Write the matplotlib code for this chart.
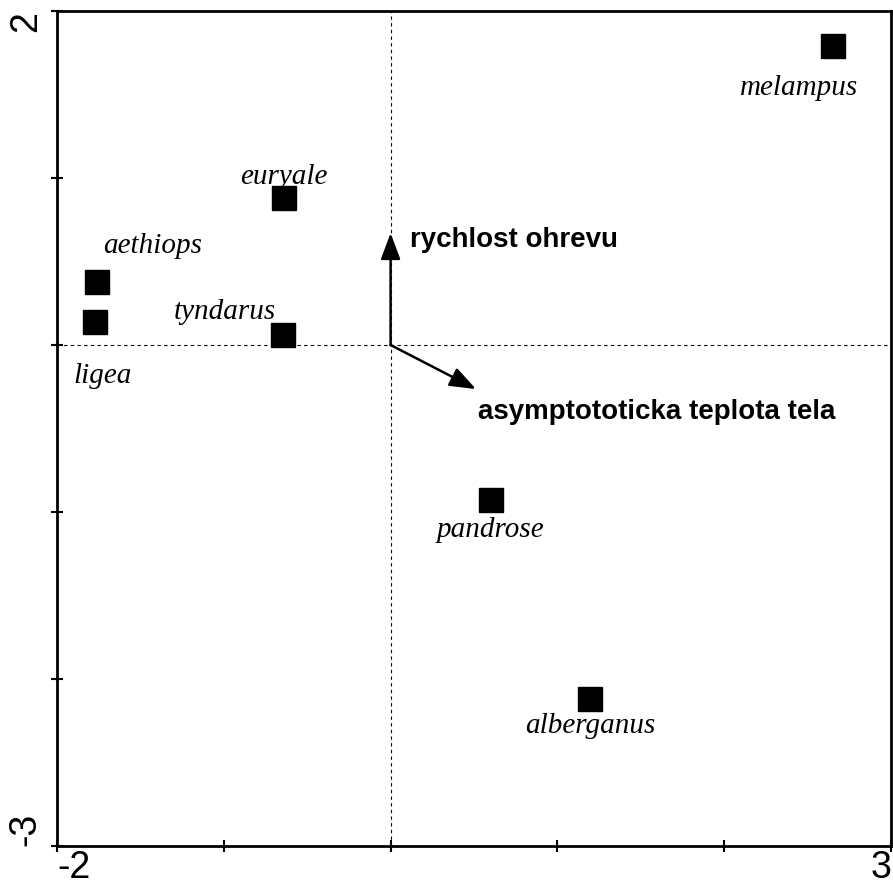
import matplotlib.pyplot as plt

# species scores
species = ['melampus', 'euryale', 'aethiops', 'ligea', 'tyndarus', 'pandrose', 'alberganus']
sp_x = [2.65, -0.64, -1.76, -1.77, -0.645, 0.60, 1.195]
sp_y = [1.79, 0.88, 0.375, 0.136, 0.062, -0.928, -2.12]

# environmental variables (arrows)
env_names = ['rychlost ohrevu', 'asymptototicka teplota tela']
env_x = [0.0, 0.512]
env_y = [0.67, -0.264]

# label offsets in pixels (dx, dy), up is positive
lab_off = [(-34, -42), (0, 21), (56, 36), (7, -54), (-58, 23), (0, -30), (0, -27)]
env_off = [(19, -7), (2, -23)]

fig = plt.figure(figsize=(8.93, 8.92), dpi=100)
ax = fig.add_axes([57 / 893, 1 - 846 / 892, 834 / 893, 835 / 892])

ax.set_xlim(-2, 3)
ax.set_ylim(-3, 2)

# dashed zero lines
ax.axhline(0, color='black', lw=0.8, ls=(0, (3, 3)))
ax.axvline(0, color='black', lw=0.8, ls=(0, (3, 3)))

ax.plot(sp_x, sp_y, 's', color='black', ms=17, zorder=3)
for name, x, y, off in zip(species, sp_x, sp_y, lab_off):
    ax.annotate(name, (x, y), xytext=off, textcoords='offset pixels',
                ha='center', va='center', fontsize=21, style='italic',
                family='Liberation Serif')

for name, x, y, off in zip(env_names, env_x, env_y, env_off):
    ax.annotate('', xy=(x, y), xytext=(0, 0),
                arrowprops=dict(arrowstyle='-|>,head_length=0.8,head_width=0.3',
                                color='black', lw=1.8, mutation_scale=20,
                                shrinkA=0, shrinkB=0))
    ax.annotate(name, (x, y), xytext=off, textcoords='offset pixels',
                ha='left', va='center', fontsize=20, fontweight='bold',
                family='Liberation Sans')

for s in ax.spines.values():
    s.set_linewidth(2)

ax.set_xticks([-2, -1, 0, 1, 2, 3])
ax.set_yticks([-3, -2, -1, 0, 1, 2])
ax.set_xticklabels(['-2', '', '', '', '', '3'])
ax.set_yticklabels(['-3', '', '', '', '', '2'])
ax.tick_params(direction='inout', length=9, width=1.5, labelsize=27)
ax.tick_params(axis='x', pad=-1.5)
ax.tick_params(axis='y', pad=5)
for lab in ax.get_xticklabels():
    lab.set_family('Liberation Sans')
for lab in ax.get_yticklabels():
    lab.set_family('Liberation Sans')
    lab.set_rotation(90)
    lab.set_va('center')
ax.get_xticklabels()[0].set_ha('left')
ax.get_xticklabels()[-1].set_ha('right')
ax.get_yticklabels()[0].set_va('bottom')
ax.get_yticklabels()[-1].set_va('top')

plt.savefig('out.png')
